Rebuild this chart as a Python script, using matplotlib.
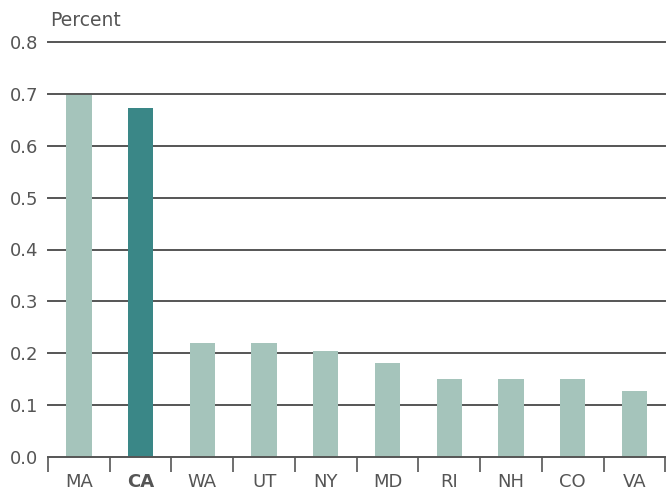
import matplotlib
matplotlib.use("Agg")
import matplotlib.pyplot as plt
import numpy as np

categories = ["MA", "CA", "WA", "UT", "NY", "MD", "RI", "NH", "CO", "VA"]
values = [0.698, 0.672, 0.219, 0.219, 0.204, 0.181, 0.151, 0.151, 0.151, 0.127]
highlight = "CA"
yticks = [0.0, 0.1, 0.2, 0.3, 0.4, 0.5, 0.6, 0.7, 0.8]

light = "#a5c4bb"
dark = "#3a8787"
gray = "#555555"

plt.rcParams['font.family'] = ['DejaVu Sans']

fig = plt.figure(figsize=(6.66, 4.92), dpi=100)
ax = fig.add_axes([48/666, 35/492, 1 - 48/666 - 0.001, (457-42)/492])

x = np.arange(len(categories))
colors = [dark if c == highlight else light for c in categories]
ax.bar(x, values, width=0.41, color=colors, zorder=3)

ax.set_xlim(-0.5, len(categories) - 0.5)
ax.set_ylim(0, 0.8)
ax.set_yticks(yticks)
ax.set_yticklabels([f"{t:.1f}" for t in yticks], fontsize=13, color=gray)
for t in yticks[1:]:
    ax.axhline(t, color=gray, lw=1.4, zorder=1, clip_on=False)

ax.set_xticks(x)
ax.set_xticklabels(categories, fontsize=13, color=gray)
for lab in ax.get_xticklabels():
    if lab.get_text() == highlight:
        lab.set_fontweight("bold")
ax.set_xticks(np.arange(len(categories) + 1) - 0.5, minor=True)
ax.tick_params(axis="x", which="major", length=0, pad=11.5)
ax.tick_params(axis="x", which="minor", length=10.5, width=1.2, color=gray)
ax.tick_params(axis="y", length=0, pad=7)

for s in ["top", "right", "left"]:
    ax.spines[s].set_visible(False)
ax.spines["bottom"].set_color(gray)
ax.spines["bottom"].set_linewidth(1.4)
ax.spines["bottom"].set_zorder(4)

fig.text(50/666, 1 - 20/492, "Percent", fontsize=13.5, color=gray, va="center", ha="left")

fig.savefig("out.png", dpi=100)
